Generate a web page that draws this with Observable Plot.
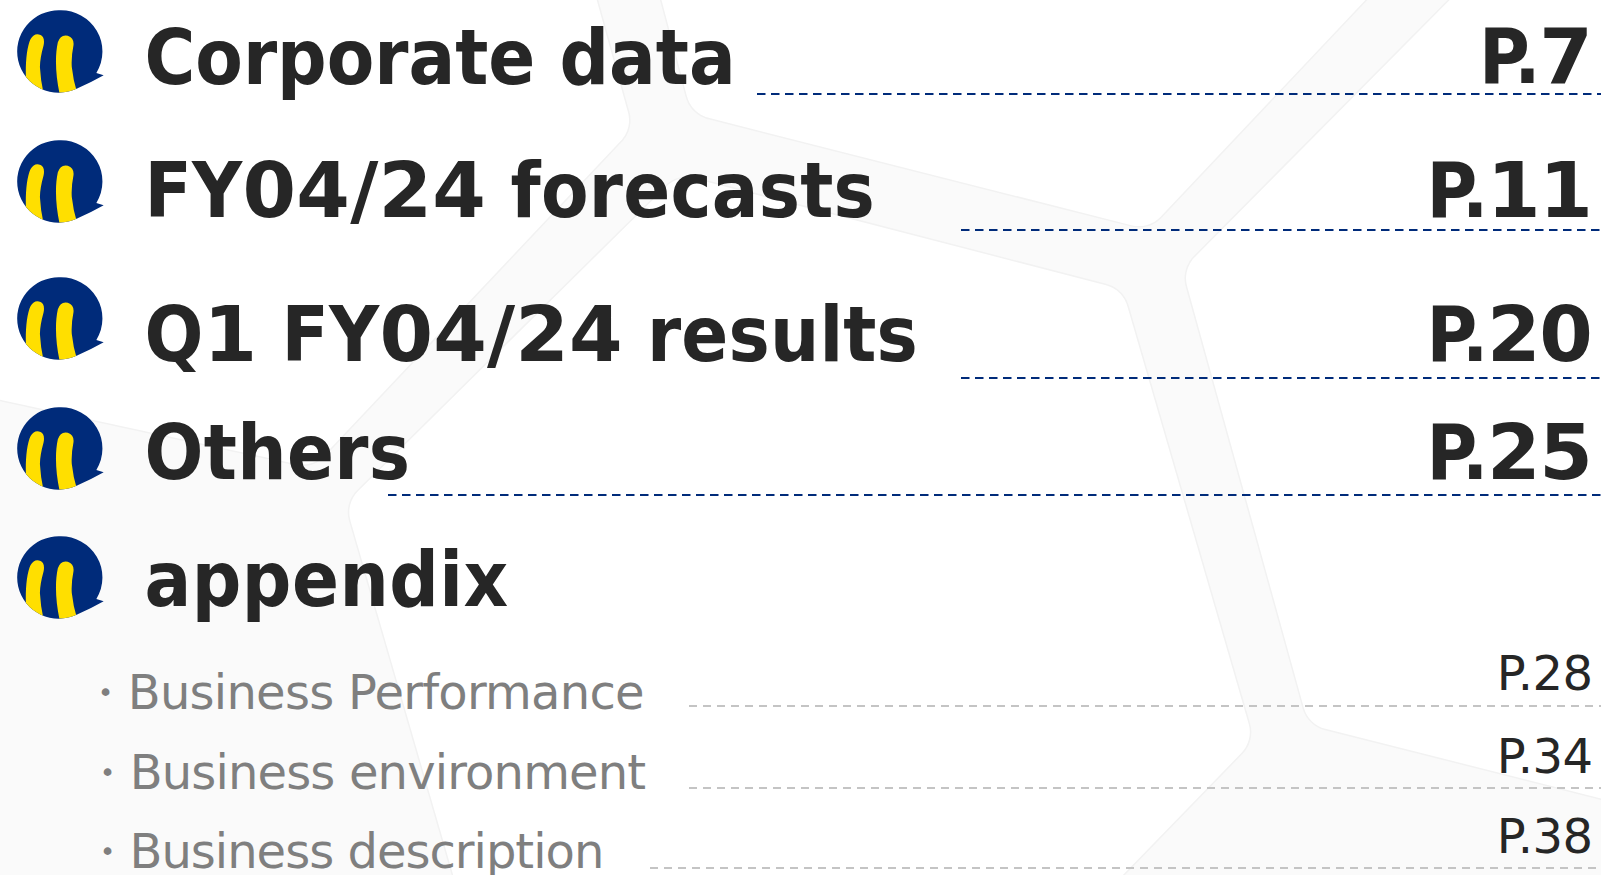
<!DOCTYPE html>
<html>
<head>
<meta charset="utf-8">
<script src="https://cdn.jsdelivr.net/npm/d3@7"></script>
<script src="https://cdn.jsdelivr.net/npm/@observablehq/plot@0.6"></script>
<style>
html,body{margin:0;padding:0;background:#fff;overflow:hidden}
.bold-text text{font-stretch:condensed}
.bold-text tspan.num{font-stretch:normal;font-family:'DejaVu Sans'}
.head-text text:nth-child(2){letter-spacing:0.25px}
.head-text text:nth-child(3){letter-spacing:0.17px}
.head-text text:nth-child(4){letter-spacing:0.35px}
.head-text text:nth-child(5){letter-spacing:0.5px}
.head-page-text text{letter-spacing:-1.3px}
.sub-text text:nth-child(1){letter-spacing:-0.75px}
.sub-text text:nth-child(2){letter-spacing:-0.85px}
.sub-text text:nth-child(3){letter-spacing:-1px}
.page-text text{letter-spacing:-0.5px}
</style>
</head>
<body>
<div id="chart"></div>
<script>
const headings = ["Corporate data", "FY04/24 forecasts", "Q1 FY04/24 results", "Others", "appendix"];
const headingPages = ["P.7", "P.11", "P.20", "P.25", ""];
const subItems = ["Business Performance", "Business environment", "Business description"];
const subPages = ["P.28", "P.34", "P.38"];

// Slide layout (pixels), kept apart from the content
const W = 1601, H = 875;
const headingBase = [83, 216, 360, 478, 605];
const headingPageBase = [82, 216, 360, 478, 605];
const logoTop = [10, 140, 277, 407, 536];
const headingRuleY = [93.5, 229.5, 377.5, 494.5];
const headingRuleX = [757, 961, 961, 388];
const subBase = [708, 788, 867];
const subX = [80, 82, 82];
const subPageBase = [689, 772, 852];
const subRuleY = [705.5, 787.5, 867.5];
const subRuleX = [689, 689, 650];
const cellRadius = 30;
const cells = [
  [[640,-80],[691,113],[1148,229],[1440,-80]],
  [[574,-80],[632,128],[312,467],[-80,382],[-80,-80]],
  [[678,174],[1122,289],[1253,740],[1051,948],[474,948],[345,503]],
  [[1528,-80],[1182,269],[1308,724],[1680,818],[1680,-80]]
];

// Pull each cell's sides in by the corner radius; a round-joined stroke restores them with round corners
function inset(poly, r) {
  const n = poly.length;
  const s = d3.polygonArea(poly) > 0 ? -1 : 1;
  const lines = poly.map((p, i) => {
    const q = poly[(i + 1) % n];
    const dx = q[0] - p[0], dy = q[1] - p[1], l = Math.hypot(dx, dy);
    return {x: p[0] - dy / l * s * r, y: p[1] + dx / l * s * r, dx, dy};
  });
  return lines.map((a, i) => {
    const b = lines[(i + 1) % n];
    const t = ((b.x - a.x) * b.dy - (b.y - a.y) * b.dx) / (a.dx * b.dy - a.dy * b.dx);
    return [a.x + a.dx * t, a.y + a.dy * t];
  });
}
const cellPts = cells.flatMap((c, i) => {
  const p = inset(c, cellRadius);
  return [...p, p[0]].map(([x, y]) => ({x, y, i}));
});

const logoPath = "M177 28a125 125 0 0 1 111 190l22 7Q270 248 230 265a125 125 0 1 1-53-237z";
const logo = "data:image/svg+xml," + encodeURIComponent(
`<svg xmlns='http://www.w3.org/2000/svg' viewBox='46 24 268 258'>
<defs><clipPath id='c'><path d='${logoPath}'/></clipPath></defs>
<path d='${logoPath}' fill='#002b7a'/>
<g clip-path='url(#c)' fill='#ffdf00'>
<path d='M76 240C74 190 78 140 90 115Q102 95 120 103Q134 110 129 135Q118 175 118 200Q120 240 130 285L85 285Z'/>
<path d='M178 285C166 230 162 170 172 125Q180 100 202 105Q222 112 219 135Q212 170 214 200Q218 240 232 285Z'/>
</g></svg>`);

const X = {type: "linear", domain: [0, W], range: [0, W], axis: null};
const Y = {type: "linear", domain: [0, H], range: [0, H], axis: null};
const regularFont = "'DejaVu Sans'";
const boldFont = "'DejaVu Sans Condensed','DejaVu Sans'";

const plot = Plot.plot({
  width: W, height: H, margin: 0, x: X, y: Y,
  style: {background: "#fafafa"},
  marks: [
    Plot.line(cellPts, {x: "x", y: "y", z: "i", fill: "#f2f2f2", stroke: "#f2f2f2", strokeWidth: cellRadius * 2 + 3, strokeLinejoin: "round"}),
    Plot.line(cellPts, {x: "x", y: "y", z: "i", fill: "#ffffff", stroke: "#ffffff", strokeWidth: cellRadius * 2, strokeLinejoin: "round"}),
    Plot.ruleY(headingRuleY.map((y, i) => ({y, x1: headingRuleX[i], x2: W})), {x1: "x1", x2: "x2", y: "y", stroke: "#002b7a", strokeWidth: 2, strokeDasharray: "8.5,5.5"}),
    Plot.ruleY(subRuleY.map((y, i) => ({y, x1: subRuleX[i], x2: W})), {x1: "x1", x2: "x2", y: "y", stroke: "#c4c4c4", strokeWidth: 2, strokeDasharray: "8,6"}),
    Plot.image(logoTop, {x: () => 60, y: (d) => d + 41, width: 89, height: 85, src: () => logo, preserveAspectRatio: "none"}),
    Plot.text(headings, {className: "bold-text head-text", x: () => 144, y: (d, i) => headingBase[i], text: (d) => d, textAnchor: "start", lineAnchor: "bottom", fontFamily: boldFont, fontWeight: "bold", fontSize: 77, fill: "#262626"}),
    Plot.text(headingPages, {className: "bold-text head-page-text", x: () => 1591, y: (d, i) => headingPageBase[i], text: (d) => d, textAnchor: "end", lineAnchor: "bottom", fontFamily: boldFont, fontWeight: "bold", fontSize: 77, fill: "#262626"}),
    Plot.text(subItems, {className: "sub-text", x: (d, i) => subX[i], y: (d, i) => subBase[i], text: (d) => "\u30FB" + d, textAnchor: "start", lineAnchor: "bottom", fontFamily: regularFont, fontSize: 48, fill: "#7f7f7f"}),
    Plot.text(subPages, {className: "page-text", x: () => 1592, y: (d, i) => subPageBase[i], text: (d) => d, textAnchor: "end", lineAnchor: "bottom", fontFamily: regularFont, fontSize: 48, fill: "#262626"})
  ]
});
// The bold headline digits are set wider than their letters
d3.select(plot).selectAll(".bold-text text").each(function () {
  const parts = this.textContent.split(/(\d[\d\/]*)/).filter((s) => s);
  this.textContent = "";
  for (const part of parts) {
    const t = document.createElementNS("http://www.w3.org/2000/svg", "tspan");
    t.textContent = part;
    if (/\d/.test(part)) t.setAttribute("class", "num");
    this.appendChild(t);
  }
});
document.getElementById("chart").appendChild(plot);
</script>
</body>
</html>
